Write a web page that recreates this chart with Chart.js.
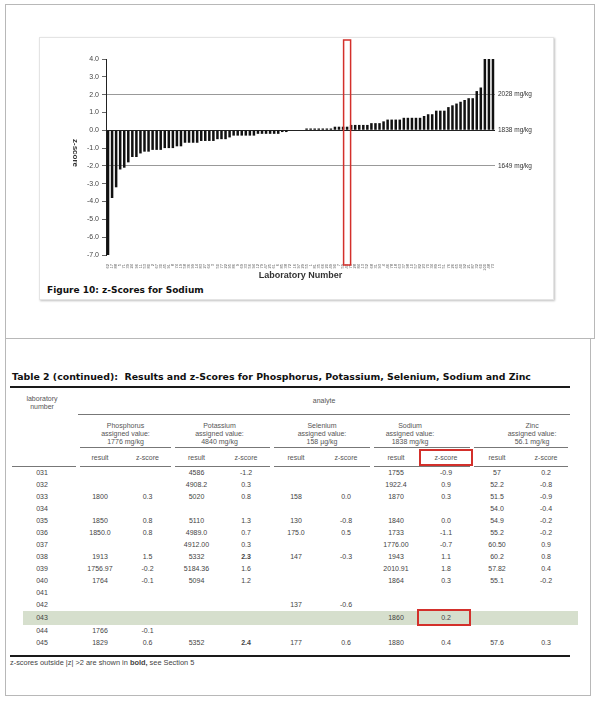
<!DOCTYPE html>
<html>
<head>
<meta charset="utf-8">
<script src="https://cdn.jsdelivr.net/npm/chart.js@4.4.1/dist/chart.umd.min.js"></script>
<style>
  body { margin: 0; background: #fff; }
  #page { position: relative; width: 600px; height: 702px; overflow: hidden; font-family: 'Liberation Sans', Arial, sans-serif; }
  .frame { position: absolute; border: 1px solid #b8b8b8; box-sizing: border-box; }
  #figbox { position: absolute; left: 39px; top: 37px; width: 515px; height: 263px; border: 1px solid #e4e4e4; box-sizing: border-box; box-shadow: 1px 1px 2px rgba(0,0,0,0.25); background: #fff; }
  #chart { position: absolute; left: 0; top: 0; }
  #caption { position: absolute; left: 7px; top: 247px; font: bold 9px 'DejaVu Sans', Verdana, sans-serif; color: #111; white-space: nowrap; }
  #tableTitle { position: absolute; left: 12px; top: 371px; font: bold 9.4px 'DejaVu Sans', Verdana, sans-serif; color: #111; white-space: pre; }
  #hl { position: absolute; left: 23px; top: 611px; width: 555px; height: 14px; background: #d6dfcd; }
  #res { position: absolute; left: 10px; top: 386px; width: 560px; table-layout: fixed; border-collapse: separate; border-spacing: 0;
         border-top: 2px solid #1a1a1a; border-bottom: 2px solid #1a1a1a; font-size: 7px; color: #444; }
  #res td { padding: 0; text-align: center; line-height: 12px; white-space: nowrap; }
  #res .hd { vertical-align: top; line-height: 8px; color: #555; }
  .line { background: linear-gradient(#777, #777) no-repeat; background-position: center bottom; background-size: calc(100% - 4px) 1px; }
  .lineL { background: linear-gradient(#777, #777) no-repeat; background-position: right bottom; background-size: calc(100% - 2px) 1px; }
  .lineR { background: linear-gradient(#777, #777) no-repeat; background-position: left bottom; background-size: calc(100% - 2px) 1px; }
  .lineFull { background: linear-gradient(#777, #777) no-repeat; background-position: left bottom; background-size: 100% 1px; }
  #note { position: absolute; left: 10px; top: 658px; font-size: 7.4px; color: #444; white-space: nowrap; }
  .redbox { position: absolute; border: 2px solid #d3302b; box-sizing: border-box; }
</style>
</head>
<body>
<div id="page">
  <div class="frame" style="left:5px;top:4px;width:590px;height:335px"></div>
  <div class="frame" style="left:5px;top:338px;width:586px;height:358px"></div>

  <div id="figbox">
    <canvas id="chart" width="513" height="244"></canvas>
    <div id="caption">Figure 10: z-Scores for Sodium</div>
  </div>

  <div id="tableTitle">Table 2 (continued):  Results and z-Scores for Phosphorus, Potassium, Selenium, Sodium and Zinc</div>
  <div id="hl"></div>
  <table id="res">
    <colgroup>
      <col style="width:68px"><col style="width:44px"><col style="width:51px"><col style="width:47px"><col style="width:52px">
      <col style="width:48px"><col style="width:52px"><col style="width:48px"><col style="width:52px"><col style="width:50px"><col style="width:48px">
    </colgroup>
    <thead>
      <tr style="height:27px">
        <td class="hd line" rowspan="3" style="padding-top:7px;padding-right:4px">laboratory<br>number</td>
        <td class="hd lineFull" colspan="10" style="padding-top:9px">analyte</td>
      </tr>
      <tr style="height:33px">
        <td class="hd line" colspan="2" style="padding-top:7px">Phosphorus<br>assigned value:<br>1776 mg/kg</td>
        <td class="hd line" colspan="2" style="padding-top:7px;padding-right:6px">Potassium<br>assigned value:<br>4840 mg/kg</td>
        <td class="hd line" colspan="2" style="padding-top:7px">Selenium<br>assigned value:<br>158 µg/kg</td>
        <td class="hd line" colspan="2" style="padding-top:7px;padding-right:24px">Sodium<br>assigned value:<br>1838 mg/kg</td>
        <td class="hd line" colspan="2" style="padding-top:7px;padding-left:22px">Zinc<br>assigned value:<br>56.1 mg/kg</td>
      </tr>
      <tr style="height:19px" id="subRow"></tr>
    </thead>
    <tbody id="body"></tbody>
  </table>
  <div id="note">z-scores outside |z| &gt;2 are shown in <b>bold,</b> see Section 5</div>

  <div class="redbox" style="left:419px;top:449px;width:54px;height:17px"></div>
  <div class="redbox" style="left:417px;top:609px;width:54px;height:17px"></div>
</div>

<script>
// lab numbers in plotted order (tiny rotated labels under the bars)
var labNumbers = ["62","17","88","5","71","39","24","96","11","53","80","2","67","30","45","91","8","74","19","58",
  "36","99","14","83","27","64","3","50","77","22","95","86","9","69","33","56","94","12","79","47",
  "25","61","6","85","38","72","16","97","29","55","1","81","35","66","20","49","90","7","59","43",
  "75","28","84","13","52","68","31","93","4","46","78","18","63","37","98","10","57","82","23","70",
  "34","89","15","51","76","26","65","40","92","21","87","32","60","100","48","73"];

// sodium z-scores, sorted
var zScores = [-7.0, -3.8, -3.2, -2.2, -2.1, -1.8, -1.5, -1.5, -1.3, -1.2,
  -1.2, -1.1, -1.1, -1.1, -1.0, -1.0, -1.0, -0.9, -0.9, -0.7,
  -0.7, -0.7, -0.7, -0.6, -0.6, -0.6, -0.6, -0.5, -0.5, -0.5,
  -0.4, -0.3, -0.3, -0.3, -0.3, -0.3, -0.3, -0.2, -0.2, -0.2,
  -0.2, -0.2, -0.2, -0.1, -0.1, 0.0, 0.0, 0.0, 0.0, 0.1,
  0.1, 0.1, 0.1, 0.1, 0.1, 0.1, 0.2, 0.2, 0.2, 0.2,
  0.3, 0.3, 0.3, 0.3, 0.3, 0.4, 0.4, 0.4, 0.5, 0.6,
  0.6, 0.6, 0.6, 0.7, 0.7, 0.7, 0.7, 0.7, 0.8, 0.9,
  0.9, 1.1, 1.1, 1.1, 1.3, 1.4, 1.5, 1.6, 1.7, 1.8,
  1.8, 2.2, 2.4, 4.0, 4.0, 4.0];

var refValues = [2, 0, -2];
var refLabels = ["2028 mg/kg", "1838 mg/kg", "1649 mg/kg"];
var markedLab = "43";

// table 2 rows: lab, P result, P z, K result, K z, Se result, Se z, Na result, Na z, Zn result, Zn z
var subHeads = ["result", "z-score"];
var tableRows = [
  ["031", "", "", "4586", "-1.2", "", "", "1755", "-0.9", "57", "0.2"],
  ["032", "", "", "4908.2", "0.3", "", "", "1922.4", "0.9", "52.2", "-0.8"],
  ["033", "1800", "0.3", "5020", "0.8", "158", "0.0", "1870", "0.3", "51.5", "-0.9"],
  ["034", "", "", "", "", "", "", "", "", "54.0", "-0.4"],
  ["035", "1850", "0.8", "5110", "1.3", "130", "-0.8", "1840", "0.0", "54.9", "-0.2"],
  ["036", "1850.0", "0.8", "4989.0", "0.7", "175.0", "0.5", "1733", "-1.1", "55.2", "-0.2"],
  ["037", "", "", "4912.00", "0.3", "", "", "1776.00", "-0.7", "60.50", "0.9"],
  ["038", "1913", "1.5", "5332", "2.3", "147", "-0.3", "1943", "1.1", "60.2", "0.8"],
  ["039", "1756.97", "-0.2", "5184.36", "1.6", "", "", "2010.91", "1.8", "57.82", "0.4"],
  ["040", "1764", "-0.1", "5094", "1.2", "", "", "1864", "0.3", "55.1", "-0.2"],
  ["041", "", "", "", "", "", "", "", "", "", ""],
  ["042", "", "", "", "", "137", "-0.6", "", "", "", ""],
  ["043", "", "", "", "", "", "", "1860", "0.2", "", ""],
  ["044", "1766", "-0.1", "", "", "", "", "", "", "", ""],
  ["045", "1829", "0.6", "5352", "2.4", "177", "0.6", "1880", "0.4", "57.6", "0.3"]
];
var highlightLab = "043";

// build the table
var sub = document.getElementById("subRow");
for (var g = 0; g < 5; g++) {
  for (var k = 0; k < 2; k++) {
    var td = document.createElement("td");
    td.className = "hd " + (k === 0 ? "lineL" : "lineR");
    td.style.paddingTop = "6px";
    td.textContent = subHeads[k];
    sub.appendChild(td);
  }
}
var tbody = document.getElementById("body");
tableRows.forEach(function(r) {
  var tr = document.createElement("tr");
  tr.style.height = r[0] === highlightLab ? "14px" : "12px";
  r.forEach(function(v, i) {
    var td = document.createElement("td");
    td.textContent = v;
    if (i === 0) td.style.paddingRight = "4px";
    if (i > 0 && i % 2 === 0 && v !== "" && Math.abs(parseFloat(v)) > 2) td.style.fontWeight = "bold";
    tr.appendChild(td);
  });
  tbody.appendChild(tr);
});
var spacer = document.createElement("tr");
spacer.style.height = "6px";
spacer.innerHTML = "<td colspan='11'></td>";
tbody.appendChild(spacer);

// y title reads top-to-bottom in the original
var yTitlePlugin = {
  id: "yTitle",
  afterDraw: function(chart) {
    var ctx = chart.ctx, area = chart.chartArea;
    ctx.save();
    ctx.translate(35, (area.top + area.bottom) / 2 - 4);
    ctx.rotate(Math.PI / 2);
    ctx.font = "bold 8px 'Liberation Sans', Arial";
    ctx.fillStyle = "#333";
    ctx.textAlign = "center";
    ctx.textBaseline = "middle";
    ctx.fillText("z-score", 0, 0);
    ctx.restore();
  }
};

// red frame around the marked laboratory
var markerPlugin = {
  id: "marker",
  afterDraw: function(chart) {
    var i = labNumbers.indexOf(markedLab);
    var x = chart.scales.x.getPixelForValue(i);
    var ctx = chart.ctx;
    ctx.save();
    ctx.strokeStyle = "#d3302b";
    ctx.lineWidth = 1.5;
    ctx.strokeRect(x - 3.5, 2, 7, 225);
    ctx.restore();
  }
};

var ctx = document.getElementById("chart");
new Chart(ctx, {
  type: "bar",
  data: {
    labels: labNumbers,
    datasets: [{
      data: zScores,
      backgroundColor: "#111",
      barPercentage: 0.62,
      categoryPercentage: 1.0
    }]
  },
  options: {
    responsive: false,
    animation: false,
    layout: { padding: { top: 21, left: 0, right: 0, bottom: 0 } },
    plugins: { legend: { display: false }, tooltip: { enabled: false } },
    scales: {
      x: {
        ticks: { autoSkip: false, minRotation: 90, maxRotation: 90, padding: 1, color: "#555",
                 font: { size: 4, family: "'Liberation Sans', Arial" } },
        grid: { display: false },
        border: { display: false },
        title: { display: true, text: "Laboratory Number", color: "#333",
                 font: { size: 9, weight: "bold", family: "'Liberation Sans', Arial" },
                 padding: { top: 2, bottom: 1 } },
        afterFit: function(s) { s.height = 27; }
      },
      y: {
        position: "left",
        min: -7, max: 4,
        ticks: { stepSize: 1, color: "#444", padding: 3,
                 font: { size: 7, family: "'Liberation Sans', Arial" },
                 callback: function(v) { return v.toFixed(1); } },
        grid: { drawOnChartArea: false, tickLength: 4, color: "#666" },
        border: { color: "#222", width: 1 },
        afterFit: function(s) { s.width = 66; }
      },
      yRef: {
        position: "right",
        min: -7, max: 4,
        afterBuildTicks: function(s) { s.ticks = refValues.map(function(v) { return { value: v }; }); },
        ticks: { padding: 3, color: "#333", font: { size: 6.5, family: "'Liberation Sans', Arial" },
                 callback: function(v) { return refLabels[refValues.indexOf(v)]; } },
        grid: { drawOnChartArea: true, tickLength: 0,
                color: function(c) { return c.tick && c.tick.value === 0 ? "#222" : "#999"; } },
        border: { display: false },
        afterFit: function(s) { s.width = 58; }
      }
    }
  },
  plugins: [yTitlePlugin, markerPlugin]
});
</script>
</body>
</html>
